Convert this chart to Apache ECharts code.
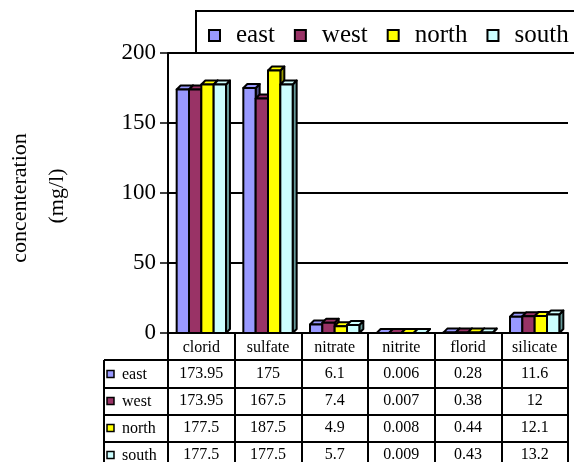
<!DOCTYPE html>
<html>
<head>
<meta charset="utf-8">
<script src="https://cdn.jsdelivr.net/npm/echarts@6/dist/echarts.min.js"></script>
<style>
  html, body { margin: 0; padding: 0; background: #fff; }
  #main { width: 574px; height: 462px; }
</style>
</head>
<body>
<div id="main"></div>
<script>
// data
var categories = ['clorid', 'sulfate', 'nitrate', 'nitrite', 'florid', 'silicate'];
var seriesNames = ['east', 'west', 'north', 'south'];
var east = [173.95, 175, 6.1, 0.006, 0.28, 11.6];
var west = [173.95, 167.5, 7.4, 0.007, 0.38, 12];
var north = [177.5, 187.5, 4.9, 0.008, 0.44, 12.1];
var south = [177.5, 177.5, 5.7, 0.009, 0.43, 13.2];
var yTicks = [0, 50, 100, 150, 200];

var allValues = [east, west, north, south];
var colors = ['#9999FF', '#993366', '#FFFF00', '#CCFFFF'];
var sideColors = ['#4d4d80', '#4d1a33', '#999900', '#669999'];
var font = 'Liberation Serif';

var mychart = echarts.init(document.getElementById('main'));

function barRender(params, api) {
    var ci = api.value(0), v = api.value(1);
    var top = api.coord([ci, v]);
    var base = api.coord([ci, 0]);
    var cw = api.size([1, 0])[0];
    var bw = cw * 0.185;
    var s = params.seriesIndex;
    var x0 = top[0] - 2 * bw + s * bw;
    var x1 = x0 + bw;
    var y0 = top[1], y1 = base[1];
    var d = 4;
    var st = { stroke: '#000', lineWidth: 2, lineJoin: 'round' };
    return {
        type: 'group',
        children: [
            { type: 'polygon', shape: { points: [[x1, y1], [x1 + d, y1 - d], [x1 + d, y0 - d], [x1, y0]] },
              style: Object.assign({ fill: sideColors[s] }, st) },
            { type: 'polygon', shape: { points: [[x0, y0], [x0 + d, y0 - d], [x1 + d, y0 - d], [x1, y0]] },
              style: Object.assign({ fill: colors[s] }, st) },
            { type: 'rect', shape: { x: x0, y: y0, width: bw, height: y1 - y0 },
              style: Object.assign({ fill: colors[s] }, st) }
        ]
    };
}

var series = seriesNames.map(function (name, i) {
    return {
        name: name,
        type: 'custom',
        renderItem: barRender,
        encode: { x: 0, y: 1 },
        itemStyle: { color: colors[i], borderColor: '#000' },
        data: allValues[i].map(function (v, j) { return [j, v]; }),
        z: 2
    };
});

var option = {
    backgroundColor: '#fff',
    animation: false,
    grid: { left: 168, right: 6, top: 53, bottom: 129 },
    legend: {
        left: 203,
        top: 18,
        z: 10,
        itemGap: 19,
        itemWidth: 11,
        itemHeight: 11,
        icon: 'rect',
        formatter: function (name) { return '{g| }' + name; },
        textStyle: {
            fontFamily: font, fontSize: 25, color: '#000',
            rich: { g: { width: 11 } }
        },
        data: seriesNames.map(function (n, i) {
            return { name: n, itemStyle: { color: colors[i], borderColor: '#000', borderWidth: 2 } };
        })
    },
    xAxis: {
        type: 'category',
        data: categories,
        axisLine: { lineStyle: { color: '#000', width: 2 } },
        axisTick: { show: true, interval: 0, length: 140, lineStyle: { color: '#000', width: 2 } },
        axisLabel: { interval: 0, margin: 7, color: '#000', fontFamily: font, fontSize: 16 }
    },
    yAxis: {
        type: 'value',
        min: yTicks[0],
        max: yTicks[yTicks.length - 1],
        interval: 50,
        axisLine: { show: true, lineStyle: { color: '#000', width: 2 } },
        axisTick: { show: true, length: 8, lineStyle: { color: '#000', width: 1.5 } },
        axisLabel: { margin: 12, color: '#000', fontFamily: font, fontSize: 23 },
        splitLine: { show: true, lineStyle: { color: '#000', width: 2 } }
    },
    series: series
};

mychart.setOption(option);

// data table below the plot + legend frame + axis title
var rowY = [374, 401, 428, 455];
var lineY = [360, 388, 415, 442];
var g = [];
g.push({ type: 'rect', z: 3, shape: { x: 196, y: 11, width: 400, height: 42 },
         style: { fill: '#fff', stroke: '#000', lineWidth: 2 } });
g.push({ type: 'text', x: 20, y: 198, rotation: Math.PI / 2,
         style: { text: 'concenteration', font: '22px "Liberation Serif"', fill: '#000', align: 'center', verticalAlign: 'middle' } });
g.push({ type: 'text', x: 57, y: 196, rotation: Math.PI / 2,
         style: { text: '(mg/l)', font: '22px "Liberation Serif"', fill: '#000', align: 'center', verticalAlign: 'middle' } });
lineY.forEach(function (y) {
    g.push({ type: 'line', shape: { x1: 104, y1: y, x2: 568, y2: y }, style: { stroke: '#000', lineWidth: 2 } });
});
g.push({ type: 'line', shape: { x1: 104, y1: 360, x2: 104, y2: 470 }, style: { stroke: '#000', lineWidth: 2 } });
seriesNames.forEach(function (name, i) {
    g.push({ type: 'rect', shape: { x: 107, y: rowY[i] - 3.5, width: 7, height: 7 },
             style: { fill: colors[i], stroke: '#000', lineWidth: 1.5 } });
    g.push({ type: 'text', x: 122, y: rowY[i] + 1,
             style: { text: name, font: '16px "Liberation Serif"', fill: '#000', align: 'left', verticalAlign: 'middle' } });
    allValues[i].forEach(function (v, j) {
        var px = mychart.convertToPixel({ xAxisIndex: 0 }, j);
        g.push({ type: 'text', x: px, y: rowY[i],
                 style: { text: String(v), font: '16px "Liberation Serif"', fill: '#000', align: 'center', verticalAlign: 'middle' } });
    });
});
mychart.setOption({ graphic: g });
</script>
</body>
</html>
